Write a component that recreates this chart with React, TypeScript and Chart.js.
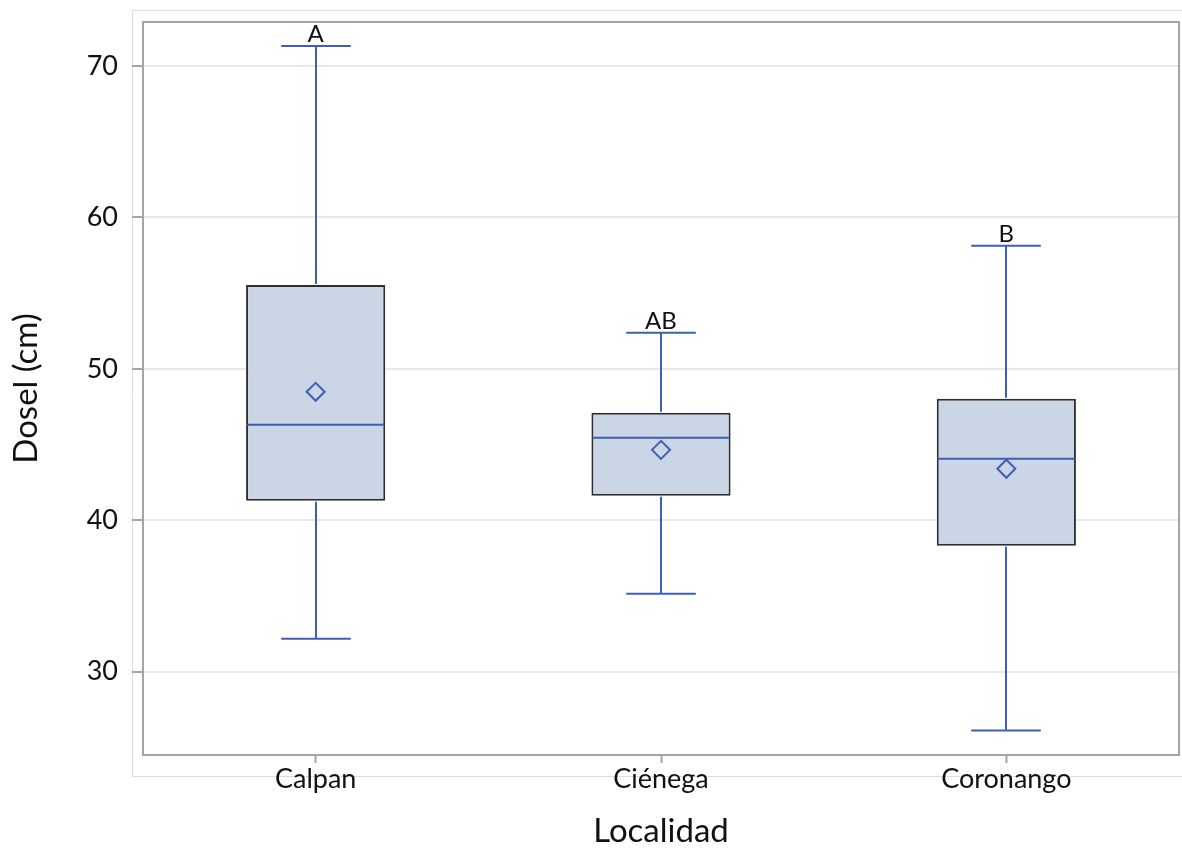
import React, { useEffect, useRef } from "react";
import { Chart, registerables } from "chart.js";

Chart.register(...registerables);

// Canopy height (cm) by locality: box-plot summary values
const localities = ["Calpan", "Ciénega", "Coronango"];
const whiskerLow = [32.18, 35.15, 26.11];
const quartile1 = [41.29, 41.62, 38.32];
const medians = [46.3, 45.45, 44.06];
const quartile3 = [55.54, 47.1, 48.02];
const whiskerHigh = [71.32, 52.38, 58.12];
const means = [48.48, 44.65, 43.4];
const groupLetters = ["A", "AB", "B"];
const yTickValues = [30, 40, 50, 60, 70];

const FONT = "Lato, 'Open Sans', sans-serif";
const BLUE = "#3d5fb5";
const BOX_FILL = "#cad5e6";
const BOX_EDGE = "#2e2e2e";

const boxPlotPlugin = {
  id: "boxPlotExtras",
  beforeDraw(chart: any) {
    const { ctx, width, height } = chart;
    ctx.save();
    ctx.fillStyle = "#ffffff";
    ctx.fillRect(0, 0, width, height);
    // faint outer frame
    ctx.strokeStyle = "#dcdcdc";
    ctx.lineWidth = 1;
    ctx.beginPath();
    ctx.moveTo(width, 10.5);
    ctx.lineTo(132.5, 10.5);
    ctx.lineTo(132.5, 776.5);
    ctx.lineTo(width, 776.5);
    ctx.stroke();
    ctx.restore();
  },
  afterDatasetDraw(chart: any, args: any) {
    if (args.index !== 0) return;
    const { ctx } = chart;
    const y = chart.scales.y;
    const meta = chart.getDatasetMeta(0);
    ctx.save();
    ctx.strokeStyle = BLUE;
    ctx.lineWidth = 2;
    meta.data.forEach((bar: any, i: number) => {
      const cx = Math.round(bar.x);
      const half = bar.width / 2;
      const cap = bar.width / 4;
      const yLow = y.getPixelForValue(whiskerLow[i]);
      const yQ1 = y.getPixelForValue(quartile1[i]);
      const yQ3 = y.getPixelForValue(quartile3[i]);
      const yHigh = y.getPixelForValue(whiskerHigh[i]);
      const yMed = y.getPixelForValue(medians[i]);
      ctx.beginPath();
      // upper whisker
      ctx.moveTo(cx, yQ3 - 1);
      ctx.lineTo(cx, yHigh);
      ctx.moveTo(cx - cap, yHigh);
      ctx.lineTo(cx + cap, yHigh);
      // lower whisker
      ctx.moveTo(cx, yQ1 + 1);
      ctx.lineTo(cx, yLow);
      ctx.moveTo(cx - cap, yLow);
      ctx.lineTo(cx + cap, yLow);
      // median
      ctx.moveTo(bar.x - half + 1, yMed);
      ctx.lineTo(bar.x + half - 1, yMed);
      ctx.stroke();
    });
    // group letters above the upper whiskers
    ctx.fillStyle = "#111111";
    ctx.font = `24px ${FONT}`;
    ctx.textAlign = "center";
    ctx.textBaseline = "alphabetic";
    meta.data.forEach((bar: any, i: number) => {
      const yHigh = y.getPixelForValue(whiskerHigh[i]);
      ctx.fillText(groupLetters[i], bar.x, yHigh - 4);
    });
    ctx.restore();
  },
  afterDraw(chart: any) {
    const { ctx, chartArea } = chart;
    ctx.save();
    ctx.strokeStyle = "#a2a6aa";
    ctx.lineWidth = 2;
    ctx.strokeRect(
      chartArea.left,
      chartArea.top,
      chartArea.right - chartArea.left,
      chartArea.bottom - chartArea.top
    );
    ctx.restore();
  },
};

export default function App() {
  const canvasRef = useRef<HTMLCanvasElement | null>(null);

  useEffect(() => {
    document.body.style.margin = "0";
    const canvas = canvasRef.current;
    if (!canvas) return;

    const chart = new Chart(canvas, {
      type: "bar",
      data: {
        labels: localities,
        datasets: [
          {
            type: "bar",
            label: "Rango intercuartílico",
            data: quartile1.map((q1, i) => [q1, quartile3[i]]),
            backgroundColor: BOX_FILL,
            borderColor: BOX_EDGE,
            borderWidth: 2,
            borderSkipped: false,
            categoryPercentage: 1,
            barPercentage: 0.403,
            order: 1,
          } as any,
          {
            type: "line",
            label: "Media",
            data: means,
            showLine: false,
            pointStyle: "rectRot",
            pointRadius: 9,
            pointBorderWidth: 2,
            pointBorderColor: BLUE,
            pointBackgroundColor: "rgba(0,0,0,0)",
            order: 0,
          } as any,
        ],
      },
      options: {
        responsive: false,
        animation: false,
        layout: {
          autoPadding: false,
          padding: { top: 22, right: 3, left: 0, bottom: 0 },
        },
        plugins: {
          legend: { display: false },
          tooltip: { enabled: false },
        },
        scales: {
          x: {
            type: "category",
            offset: true,
            grid: {
              display: true,
              drawOnChartArea: false,
              drawTicks: true,
              tickLength: 8,
              tickColor: "#a2a6aa",
              tickWidth: 2,
              offset: false,
            },
            border: { display: false },
            ticks: {
              color: "#111111",
              font: { family: FONT, size: 27 },
              padding: 0,
              maxRotation: 0,
            },
            title: {
              display: true,
              text: "Localidad",
              color: "#111111",
              font: { family: FONT, size: 33, lineHeight: 1 },
              padding: { top: 0, bottom: 0 },
            },
            afterFit(scale: any) {
              scale.height = 93;
              scale.paddingLeft = 0;
              scale.paddingRight = 0;
            },
          },
          y: {
            type: "linear",
            min: 24.5,
            max: 72.9,
            afterBuildTicks(scale: any) {
              scale.ticks = yTickValues.map((v) => ({ value: v }));
            },
            grid: {
              color: "#e8e8e8",
              lineWidth: 2,
              drawTicks: true,
              tickLength: 11,
              tickColor: "#a2a6aa",
              tickWidth: 2,
            },
            border: { display: false },
            ticks: {
              color: "#111111",
              font: { family: FONT, size: 27 },
              padding: 14,
            },
            title: {
              display: true,
              text: "Dosel (cm)",
              color: "#111111",
              font: { family: FONT, size: 33, lineHeight: 1 },
              padding: { top: 10, bottom: 0 },
            },
            afterFit(scale: any) {
              scale.width = 143;
              scale.paddingTop = 0;
              scale.paddingBottom = 0;
            },
          },
        },
      },
      plugins: [boxPlotPlugin],
    });

    return () => chart.destroy();
  }, []);

  return (
    <div style={{ width: 1182, height: 848, background: "#ffffff" }}>
      <canvas ref={canvasRef} width={1182} height={848} style={{ display: "block" }} />
    </div>
  );
}
